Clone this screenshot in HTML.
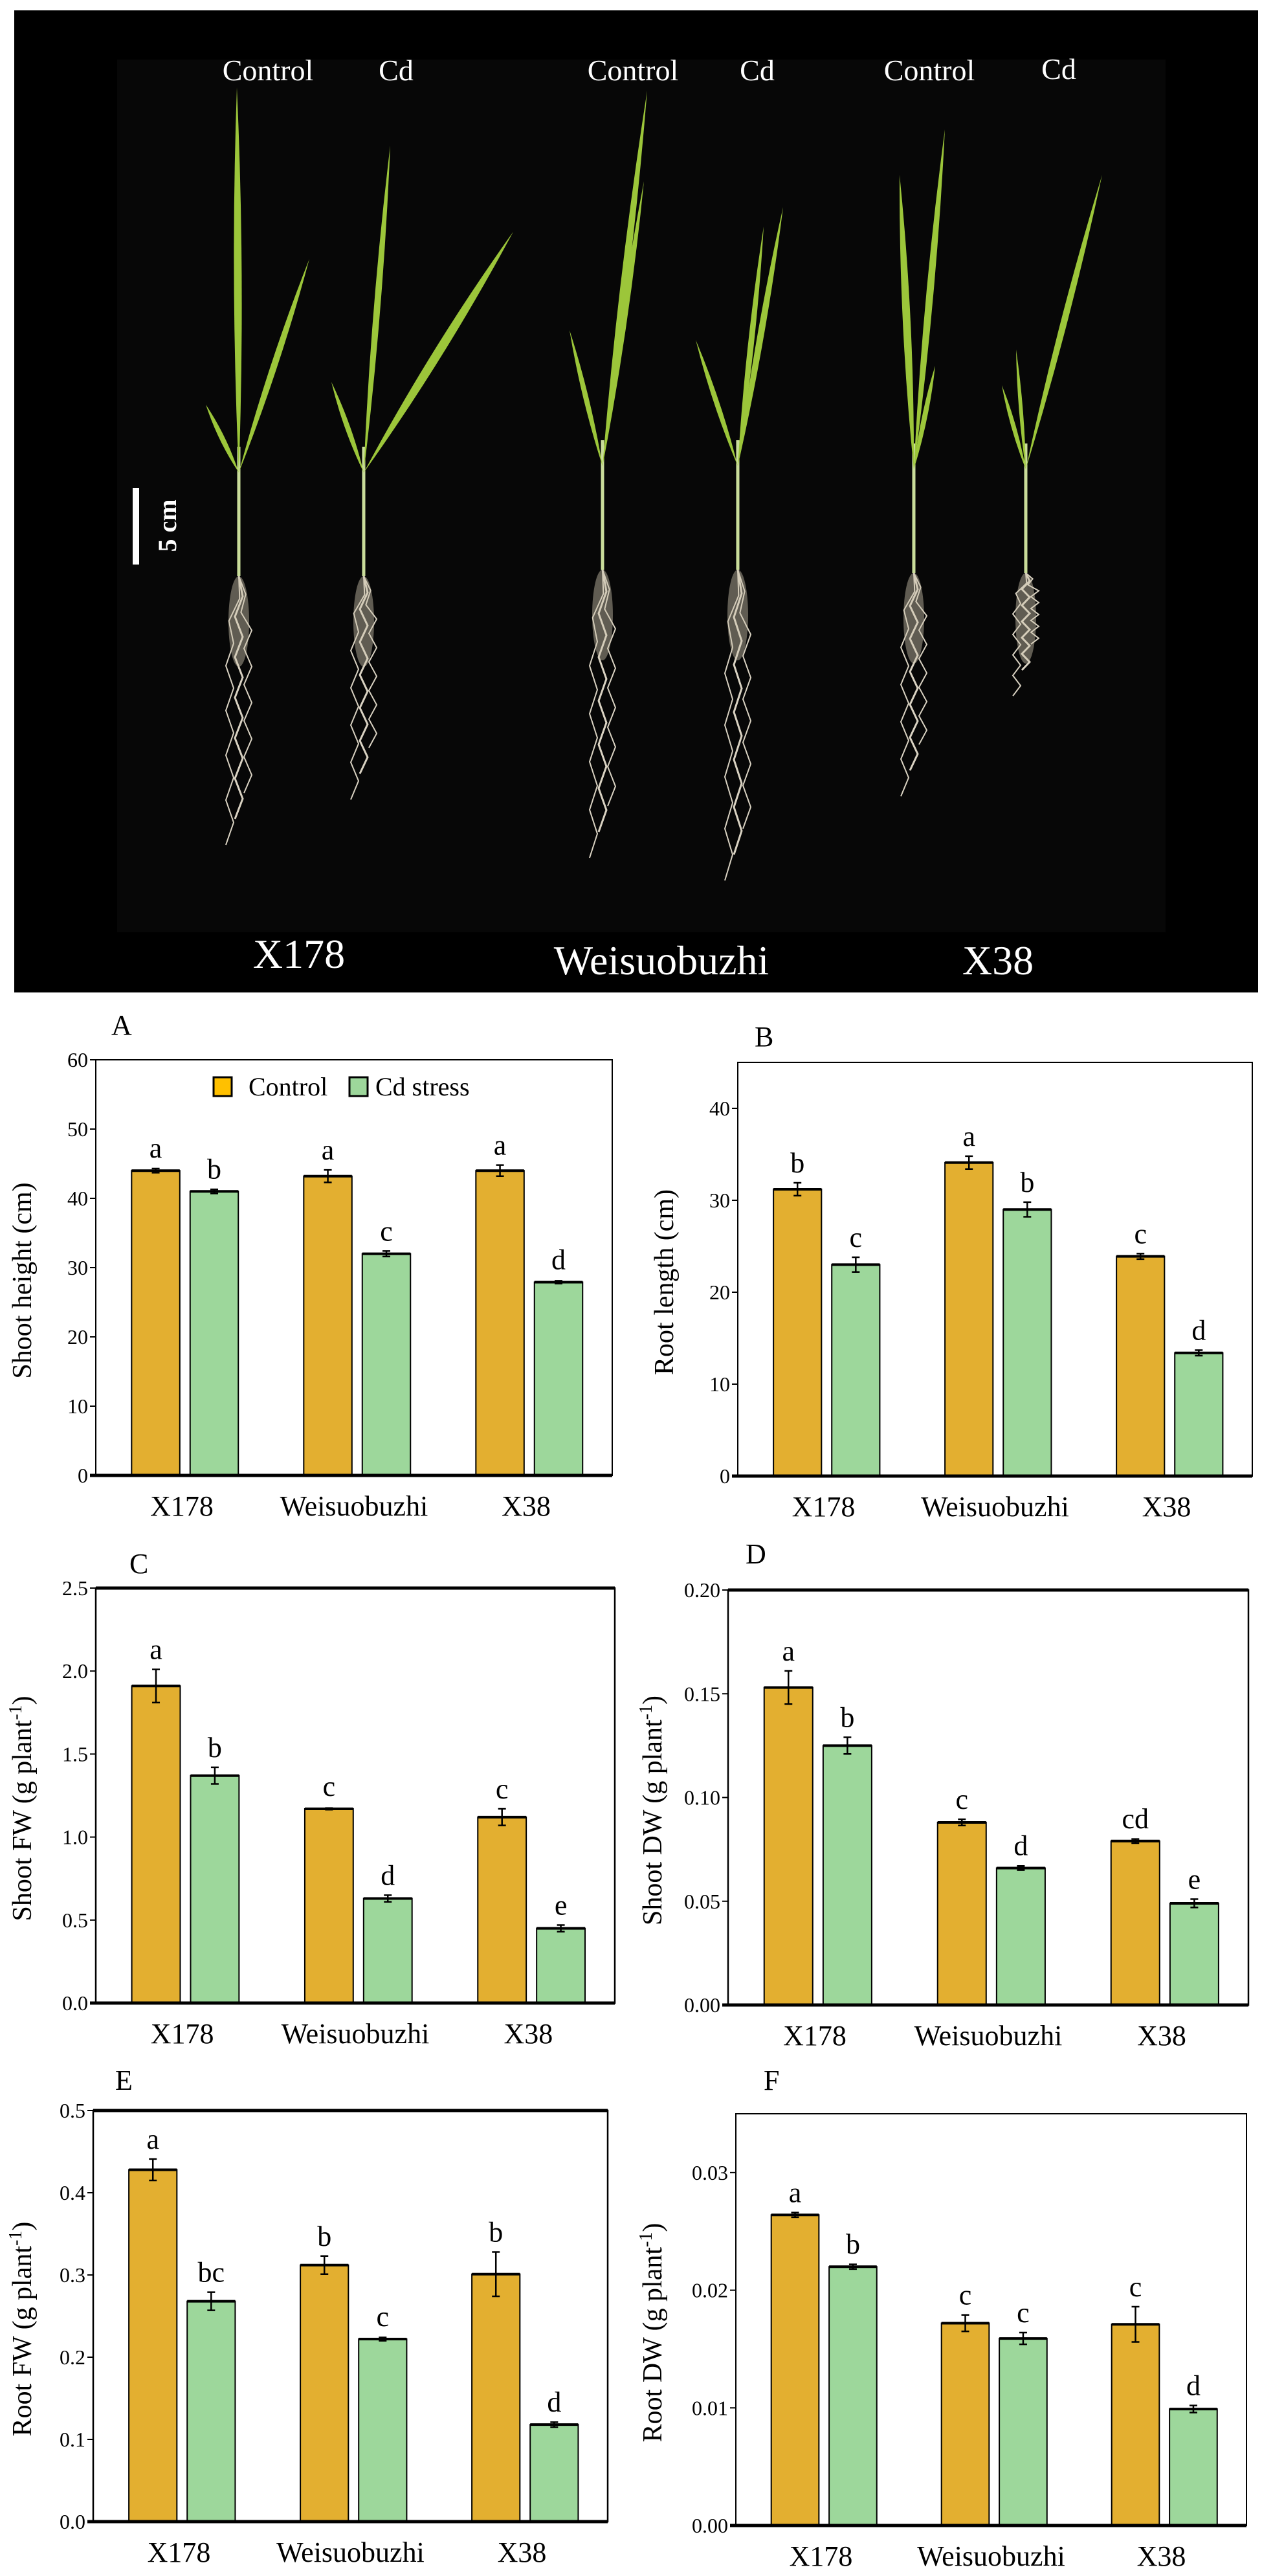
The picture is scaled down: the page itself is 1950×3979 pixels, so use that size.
<!DOCTYPE html>
<html><head><meta charset="utf-8">
<style>
body{margin:0;background:#fff;}
svg{display:block;font-family:"Liberation Serif",serif;}
</style></head>
<body>
<svg id="fig" width="1950" height="3979" viewBox="0 0 1950 3979" xmlns="http://www.w3.org/2000/svg">
<g id="photo">
  <rect x="22" y="16" width="1922" height="1517" fill="#000"/>
  <rect x="181" y="92" width="1620" height="1348" fill="#070707"/>
  <g id="roots" fill="none" stroke="#d9d2c2" stroke-width="3"></g>
  <g id="plants"></g>
  <rect x="205" y="754" width="10" height="118" fill="#fff"/>
  <text transform="translate(272,812) rotate(-90)" text-anchor="middle" font-size="40" font-weight="bold" fill="#fff">5 cm</text>
  <g fill="#fff" font-size="46" text-anchor="middle">
    <text x="414" y="124">Control</text>
    <text x="612" y="124">Cd</text>
    <text x="978" y="124">Control</text>
    <text x="1170" y="124">Cd</text>
    <text x="1436" y="124">Control</text>
    <text x="1636" y="122">Cd</text>
  </g>
  <g fill="#fff" font-size="64" text-anchor="middle">
    <text x="462" y="1495">X178</text>
    <text x="1022" y="1505">Weisuobuzhi</text>
    <text x="1542" y="1505">X38</text>
  </g>
</g>
<g id="charts"></g>
</svg>
<script>
// ---------- chart data ----------
const categories = ["X178", "Weisuobuzhi", "X38"];
const seriesNames = ["Control", "Cd stress"];

const shootHeightControl = [44.0, 43.2, 44.0];
const shootHeightControlErr = [0.3, 0.9, 0.8];
const shootHeightCd = [41.0, 32.0, 27.9];
const shootHeightCdErr = [0.3, 0.4, 0.2];
const shootHeightLettersControl = ["a", "a", "a"];
const shootHeightLettersCd = ["b", "c", "d"];
const shootHeightTicks = [0, 10, 20, 30, 40, 50, 60];

const rootLengthControl = [31.2, 34.1, 23.9];
const rootLengthControlErr = [0.7, 0.7, 0.3];
const rootLengthCd = [23.0, 29.0, 13.4];
const rootLengthCdErr = [0.8, 0.8, 0.3];
const rootLengthLettersControl = ["b", "a", "c"];
const rootLengthLettersCd = ["c", "b", "d"];
const rootLengthTicks = [0, 10, 20, 30, 40];

const shootFWControl = [1.91, 1.17, 1.12];
const shootFWControlErr = [0.10, 0.005, 0.05];
const shootFWCd = [1.37, 0.63, 0.45];
const shootFWCdErr = [0.05, 0.02, 0.02];
const shootFWLettersControl = ["a", "c", "c"];
const shootFWLettersCd = ["b", "d", "e"];
const shootFWTicks = ["0.0", "0.5", "1.0", "1.5", "2.0", "2.5"];

const shootDWControl = [0.153, 0.088, 0.079];
const shootDWControlErr = [0.008, 0.0015, 0.001];
const shootDWCd = [0.125, 0.066, 0.049];
const shootDWCdErr = [0.004, 0.001, 0.002];
const shootDWLettersControl = ["a", "c", "cd"];
const shootDWLettersCd = ["b", "d", "e"];
const shootDWTicks = ["0.00", "0.05", "0.10", "0.15", "0.20"];

const rootFWControl = [0.428, 0.312, 0.301];
const rootFWControlErr = [0.013, 0.011, 0.027];
const rootFWCd = [0.268, 0.222, 0.118];
const rootFWCdErr = [0.011, 0.002, 0.003];
const rootFWLettersControl = ["a", "b", "b"];
const rootFWLettersCd = ["bc", "c", "d"];
const rootFWTicks = ["0.0", "0.1", "0.2", "0.3", "0.4", "0.5"];

const rootDWControl = [0.0264, 0.0172, 0.0171];
const rootDWControlErr = [0.0002, 0.0007, 0.0015];
const rootDWCd = [0.0220, 0.0159, 0.0099];
const rootDWCdErr = [0.0002, 0.0005, 0.0003];
const rootDWLettersControl = ["a", "c", "c"];
const rootDWLettersCd = ["b", "c", "d"];
const rootDWTicks = ["0.00", "0.01", "0.02", "0.03"];

// ---------- helpers ----------
const NS = "http://www.w3.org/2000/svg";
function mk(tag, attrs, parent) {
  const e = document.createElementNS(NS, tag);
  for (const k in attrs) e.setAttribute(k, attrs[k]);
  parent.appendChild(e);
  return e;
}
const chartsG = document.getElementById("charts");

function drawChart(o) {
  const g = mk("g", {}, chartsG);
  
  
  const L = o.x0, R = o.x1, T = o.y0, B = o.y1;
  const yS = v => B - (v / o.ymax) * (B - T);
  const band = (R - L) / categories.length;
  const xC = i => L + band * (i + 0.5);
  const bw = band * 0.28, gap = band * 0.012;

  const pl = mk("text", {x: o.lx, y: o.ly, "font-size": 44}, g);
  
  
  pl.textContent = o.letter;

  const fr = mk("rect", {x: L, y: T, width: R - L, height: B - T, fill: "none", stroke: "#000", "stroke-width": o.topThick ? 2.5 : 2}, g);
  
  
  if (o.topThick) {
    const tl = mk("line", {x1: L, x2: R, y1: T, y2: T, stroke: "#000", "stroke-width": 5}, g);
    
    
  }

  o.ticks.forEach(t => {
    const v = parseFloat(t);
    const y = yS(v);
    const tk = mk("line", {x1: L - 9, x2: L, y1: y, y2: y, stroke: "#000", "stroke-width": 2}, g);
    
    
    const tx = mk("text", {x: L - 12, y: y + 11, "font-size": 32, "text-anchor": "end"}, g);
    
    
    tx.textContent = t;
  });

  const yt = mk("text", {transform: `translate(${o.tx},${(T + B) / 2 + 20}) rotate(-90)`, "font-size": 42, "text-anchor": "middle"}, g);
  
  
  if (o.sup) {
    yt.appendChild(document.createTextNode(o.title + " (g plant"));
    const s = mk("tspan", {"baseline-shift": "super", "font-size": 28}, yt);
    s.textContent = "-1";
    const s2 = mk("tspan", {}, yt);
    s2.textContent = ")";
  } else yt.textContent = o.title;

  const series = [
    {v: o.c, e: o.ce, l: o.cl, fill: "#E3AF30", off: -gap - bw, nm: "control"},
    {v: o.d, e: o.de, l: o.dl, fill: "#9DD79B", off: gap * 4, nm: "cd"}
  ];
  series.forEach(s => {
    s.v.forEach((val, i) => {
      const x = xC(i) + s.off;
      const y = yS(val);
      const b = mk("rect", {x: x, y: y, width: bw, height: B - y, fill: s.fill, stroke: "#000", "stroke-width": 2}, g);
      
      
      const tp = mk("line", {x1: x, x2: x + bw, y1: y, y2: y, stroke: "#000", "stroke-width": 4}, g);
      
      
      const cx = x + bw / 2;
      const yh = yS(val + s.e[i]), yl = yS(val - s.e[i]);
      const eb = mk("path", {d: `M${cx},${yh}V${yl}M${cx - 6},${yh}H${cx + 6}M${cx - 6},${yl}H${cx + 6}`, stroke: "#000", "stroke-width": 2.5, fill: "none"}, g);
      
      
      const lt = mk("text", {x: cx, y: Math.min(yh, y - 4) - 16, "font-size": 44, "text-anchor": "middle"}, g);
      
      
      lt.textContent = s.l[i];
    });
  });

  const ba = mk("line", {x1: L - 9, x2: R, y1: B, y2: B, stroke: "#000", "stroke-width": 5}, g);
  
  

  categories.forEach((c, i) => {
    const t = mk("text", {x: xC(i), y: B + 62, "font-size": 44, "text-anchor": "middle"}, g);
    
    
    t.textContent = c;
  });

  if (o.legend) {
    const lg = mk("g", {}, g);
    
    
    const r1 = mk("rect", {x: 330, y: 1664, width: 28, height: 29, fill: "#FFC000", stroke: "#000", "stroke-width": 3}, lg);
    
    
    const t1 = mk("text", {x: 384, y: 1692, "font-size": 40}, lg);
    
    
    t1.textContent = seriesNames[0];
    const r2 = mk("rect", {x: 540, y: 1664, width: 28, height: 29, fill: "#9DD79B", stroke: "#000", "stroke-width": 3}, lg);
    
    
    const t2 = mk("text", {x: 580, y: 1692, "font-size": 40}, lg);
    
    
    t2.textContent = seriesNames[1];
  }
}

drawChart({name: "chart-shoot-height", letter: "A", lx: 172, ly: 1598, x0: 148, x1: 946, y0: 1637, y1: 2279, ymax: 60, ticks: shootHeightTicks.map(String),
  title: "Shoot height (cm)", tx: 48, c: shootHeightControl, ce: shootHeightControlErr, d: shootHeightCd, de: shootHeightCdErr,
  cl: shootHeightLettersControl, dl: shootHeightLettersCd, legend: true});
drawChart({name: "chart-root-length", letter: "B", lx: 1166, ly: 1616, x0: 1140, x1: 1935, y0: 1641, y1: 2280, ymax: 45, ticks: rootLengthTicks.map(String),
  title: "Root length (cm)", tx: 1040, c: rootLengthControl, ce: rootLengthControlErr, d: rootLengthCd, de: rootLengthCdErr,
  cl: rootLengthLettersControl, dl: rootLengthLettersCd});
drawChart({name: "chart-shoot-fw", letter: "C", lx: 200, ly: 2430, x0: 148, x1: 950, y0: 2453, y1: 3094, ymax: 2.5, ticks: shootFWTicks,
  title: "Shoot FW", sup: true, tx: 48, c: shootFWControl, ce: shootFWControlErr, d: shootFWCd, de: shootFWCdErr,
  cl: shootFWLettersControl, dl: shootFWLettersCd, topThick: true});
drawChart({name: "chart-shoot-dw", letter: "D", lx: 1152, ly: 2415, x0: 1125, x1: 1929, y0: 2456, y1: 3097, ymax: 0.20, ticks: shootDWTicks,
  title: "Shoot DW", sup: true, tx: 1022, c: shootDWControl, ce: shootDWControlErr, d: shootDWCd, de: shootDWCdErr,
  cl: shootDWLettersControl, dl: shootDWLettersCd, topThick: true});
drawChart({name: "chart-root-fw", letter: "E", lx: 178, ly: 3228, x0: 144, x1: 939, y0: 3260, y1: 3895, ymax: 0.5, ticks: rootFWTicks,
  title: "Root FW", sup: true, tx: 48, c: rootFWControl, ce: rootFWControlErr, d: rootFWCd, de: rootFWCdErr,
  cl: rootFWLettersControl, dl: rootFWLettersCd, topThick: true});
drawChart({name: "chart-root-dw", letter: "F", lx: 1180, ly: 3228, x0: 1137, x1: 1926, y0: 3265, y1: 3901, ymax: 0.035, ticks: rootDWTicks,
  title: "Root DW", sup: true, tx: 1022, c: rootDWControl, ce: rootDWControlErr, d: rootDWCd, de: rootDWCdErr,
  cl: rootDWLettersControl, dl: rootDWLettersCd});

// ---------- photo illustration ----------
const plantsG = document.getElementById("plants");
const rootsG = document.getElementById("roots");
function leaf(bx, by, tx, ty, w) {
  const mx = (bx + tx) / 2, my = (by + ty) / 2;
  const dx = tx - bx, dy = ty - by, len = Math.hypot(dx, dy);
  const nx = -dy / len * w, ny = dx / len * w;
  const p = mk("path", {d: `M${bx},${by}Q${mx + nx},${my + ny} ${tx},${ty}Q${mx - nx},${my - ny} ${bx},${by}Z`, fill: "#9cc63a"}, plantsG);
  
  
}
function stem(x, top, base) {
  const s = mk("line", {x1: x, x2: x, y1: top, y2: base, stroke: "#c9dc9a", "stroke-width": 5}, plantsG);
  
  
}
function root(x, y0, y1) {
  const offs = [-14, 0, 14];
  offs.forEach((o, j) => {
    let d = `M${x},${y0}`;
    const n = 12, end = y1 - j * 40, step = (end - y0) / n;
    for (let k = 1; k <= n; k++) d += `L${x + o * Math.min(k, 3) / 3 + ((k % 2) ? 6 : -6)},${y0 + step * k}`;
    const r = mk("path", {d: d, "stroke-width": j === 1 ? 3 : 2}, rootsG);
    
    
  });
  const c = mk("ellipse", {cx: x, cy: y0 + 70, rx: 16, ry: 70, fill: "#cfc6b0", stroke: "none", opacity: 0.45}, rootsG);
  
  
}
const plants = [
  {x: 369, b: 890, r: 1305, leaves: [[366, 135, 12], [478, 400, 10], [318, 625, 8]]},
  {x: 562, b: 890, r: 1235, leaves: [[603, 225, 10], [793, 358, 14], [512, 590, 8]]},
  {x: 931, b: 880, r: 1325, leaves: [[1000, 140, 11], [995, 280, 10], [880, 510, 8]]},
  {x: 1140, b: 880, r: 1360, leaves: [[1210, 320, 10], [1180, 350, 9], [1075, 525, 8]]},
  {x: 1412, b: 885, r: 1230, leaves: [[1460, 200, 11], [1390, 270, 12], [1445, 565, 8]]},
  {x: 1585, b: 885, r: 1075, leaves: [[1703, 270, 10], [1548, 595, 7], [1570, 540, 6]]}
];
plants.forEach(p => {
  root(p.x, p.b, p.r);
  stem(p.x, p.b - 200, p.b);
  p.leaves.forEach(l => leaf(p.x, p.b - 160, l[0], l[1], l[2]));
});
</script>
</body></html>
